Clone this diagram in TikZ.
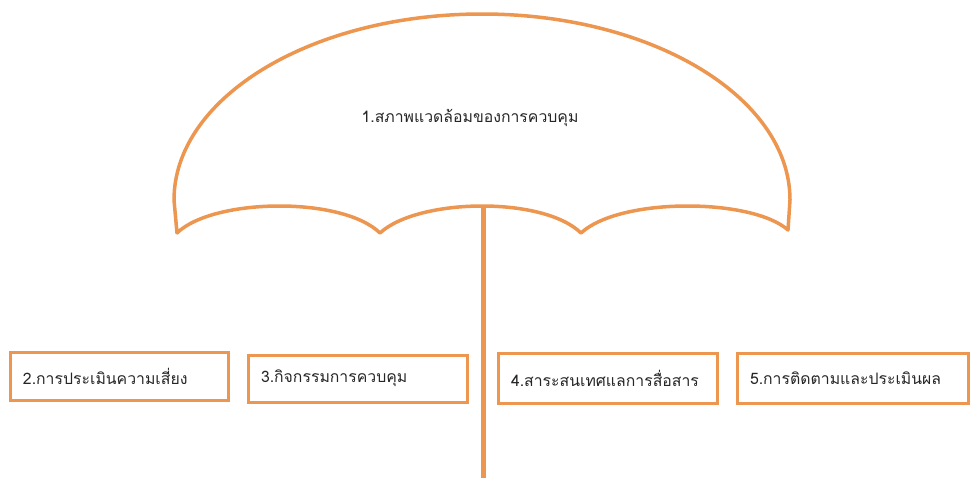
\documentclass[tikz,border=0pt]{standalone}
\usepackage{fontspec}
\newfontfamily\thaifont[Script=Thai]{Loma}
\definecolor{umb}{RGB}{236,150,80}
\begin{document}
\begin{tikzpicture}[x=1pt,y=-1pt,
  umbline/.style={draw=umb, line width=3.5pt, line join=round, line cap=round},
  thai/.style={font=\thaifont\fontsize{15.8}{18}\selectfont, text=black!85},
  box/.style={draw=umb, line width=3pt, rectangle, inner xsep=13pt, inner ysep=0pt, align=left, thai}]
\useasboundingbox (0,0) rectangle (971,477);
% canopy
\draw[umbline] (177,233) -- (174,200)
  arc[start angle=180, end angle=360, x radius=308, y radius=186]
  -- (788,230)
  .. controls (752,198) and (620,197) .. (581,233)
  .. controls (543,196) and (418,198) .. (380,233)
  .. controls (342,196) and (213,198) .. (177,233);
% pole
\coordinate (ptop) at (483,205);
\coordinate (pbot) at (483,480);
\draw[draw=umb, line width=5pt] (ptop) -- (pbot);
% title
\node[thai] (n1) at (470,118) {1.สภาพแวดล้อมของการควบคุม};
% boxes
\node[box, minimum width=218pt, minimum height=48pt, text width=192pt] (n2) at (119,376) {2.การประเมินความเสี่ยง};
\node[box, minimum width=219pt, minimum height=47pt, text width=193pt] (n3) at (357.5,378.5) {3.กิจกรรมการควบคุม};
\node[box, minimum width=219pt, minimum height=50pt, text width=193pt] (n4) at (607.5,378) {4.สาระสนเทศแลการสื่อสาร};
\node[box, minimum width=231pt, minimum height=50pt, text width=205pt] (n5) at (852.5,378) {5.การติดตามและประเมินผล};
\end{tikzpicture}
\end{document}
